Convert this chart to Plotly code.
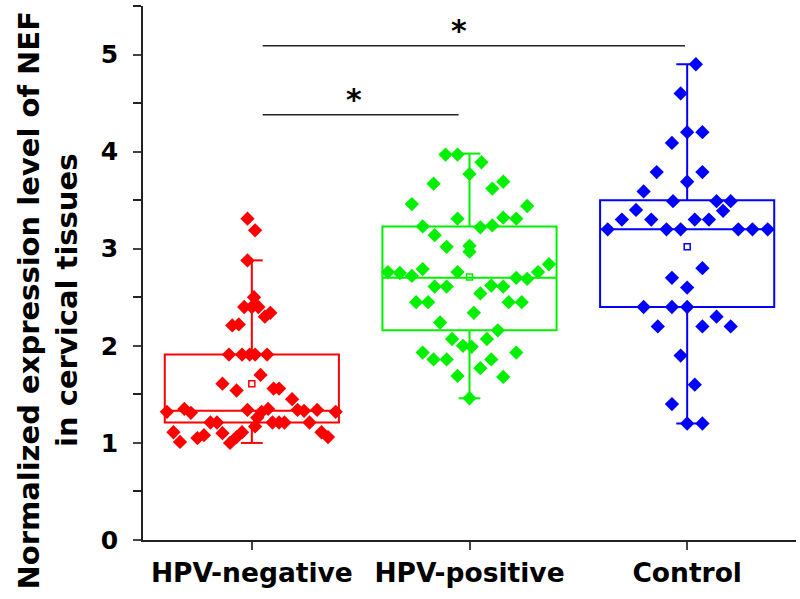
import plotly.graph_objects as go

# grupos e cores
grupos = ['HPV-negative', 'HPV-positive', 'Control']
cores = ['#ff0000', '#00f000', '#0000ff']

# estatisticas dos boxplots
q1 = [1.21, 2.16, 2.40]
mediana = [1.33, 2.70, 3.20]
q3 = [1.91, 3.23, 3.50]
whisker_inf = [1.00, 1.46, 1.20]
whisker_sup = [2.88, 3.98, 4.90]
media = [1.61, 2.71, 3.02]

# pontos individuais: valor e deslocamento horizontal (jitter)
neg_y = [3.31, 3.19, 2.88, 2.50, 2.40, 2.40, 2.40, 2.34, 2.30, 2.21, 2.22,
         1.91, 1.91, 1.91, 1.91, 1.91, 1.70, 1.61, 1.54, 1.56, 1.56, 1.45,
         1.32, 1.35, 1.31, 1.34, 1.32, 1.35, 1.34, 1.33, 1.34, 1.32,
         1.26, 1.21, 1.21, 1.21, 1.21, 1.21, 1.21, 1.17,
         1.11, 1.01, 1.05, 1.08, 1.10, 1.00, 1.06, 1.11, 1.11, 1.06]
neg_dx = [-0.02, 0.015, -0.02, 0.01, -0.035, 0.0, 0.03, 0.085, 0.06, -0.09, -0.06,
          -0.105, -0.045, -0.01, 0.015, 0.07, 0.04, -0.135, -0.07, 0.10, 0.125, 0.185,
          -0.39, -0.31, -0.28, -0.02, 0.045, 0.075, 0.21, 0.24, 0.30, 0.385,
          0.025, -0.19, -0.16, 0.095, 0.125, 0.15, 0.265, 0.015,
          -0.36, -0.33, -0.25, -0.22, -0.135, -0.10, -0.07, -0.045, 0.32, 0.35]

pos_y = [3.97, 3.97, 3.89, 3.77, 3.67, 3.62, 3.69, 3.46, 3.44, 3.31, 3.32, 3.31,
         3.23, 3.22, 3.24, 3.14, 3.02, 3.03, 2.97,
         2.76, 2.75, 2.72, 2.79, 2.76, 2.70, 2.69, 2.76, 2.84,
         2.61, 2.61, 2.54, 2.62, 2.61, 2.45, 2.45, 2.45, 2.45, 2.34, 2.24, 2.16,
         2.07, 2.07, 2.00, 1.99, 1.93, 1.86, 1.86, 1.93, 1.86, 1.77, 1.69, 1.68, 1.46]
pos_dx = [-0.11, -0.055, 0.055, 0.0, -0.165, 0.105, 0.155, -0.265, 0.265, -0.055, 0.155, 0.215,
          -0.215, 0.05, 0.105, -0.16, -0.105, 0.0, 0.0,
          -0.375, -0.32, -0.265, -0.215, -0.055, 0.215, 0.265, 0.315, 0.365,
          -0.16, -0.105, 0.05, 0.10, 0.155, -0.245, -0.19, 0.18, 0.24, 0.02, -0.135, 0.13,
          -0.08, 0.08, -0.03, 0.01, -0.215, -0.165, -0.105, 0.215, 0.10, 0.05, -0.055, 0.155, 0.0]

ctrl_y = [4.90, 4.60, 4.20, 4.20, 4.09, 3.79, 3.79, 3.69, 3.59, 3.49, 3.49, 3.49,
          3.40, 3.39, 3.30, 3.30, 3.30, 3.30, 3.20, 3.20, 3.20, 3.20, 3.20, 3.20,
          2.80, 2.70, 2.60, 2.40, 2.40, 2.40, 2.30, 2.20, 2.20, 2.20,
          1.90, 1.60, 1.40, 1.20, 1.20]
ctrl_dx = [0.04, -0.03, 0.0, 0.07, -0.07, -0.14, 0.07, 0.0, -0.2, -0.065, 0.135, 0.2,
           -0.235, 0.165, -0.3, -0.165, 0.035, 0.1, -0.365, -0.095, -0.03, 0.235, 0.3, 0.37,
           0.07, -0.07, 0.0, -0.2, -0.07, 0.0, 0.135, -0.135, 0.07, 0.2,
           -0.03, 0.035, -0.07, 0.0, 0.07]

pontos_y = [neg_y, pos_y, ctrl_y]
pontos_dx = [neg_dx, pos_dx, ctrl_dx]

fonte = 'DejaVu Sans'

fig = go.Figure()

for i, nome in enumerate(grupos):
    pos = i + 1
    cor = cores[i]
    # caixa com as estatisticas pre-calculadas
    fig.add_trace(go.Box(
        x=[pos], q1=[q1[i]], median=[mediana[i]], q3=[q3[i]],
        lowerfence=[whisker_inf[i]], upperfence=[whisker_sup[i]],
        width=0.8, boxpoints=False, whiskerwidth=0,
        fillcolor='rgba(0,0,0,0)', line=dict(color=cor, width=2),
        name=nome, showlegend=False, hoverinfo='skip'
    ))
    # tracinhos nas pontas dos whiskers
    for w in (whisker_inf[i], whisker_sup[i]):
        fig.add_trace(go.Scatter(
            x=[pos - 0.05, pos + 0.05], y=[w, w], mode='lines',
            line=dict(color=cor, width=2), showlegend=False, hoverinfo='skip'
        ))
    # pontos
    fig.add_trace(go.Scatter(
        x=[pos + d for d in pontos_dx[i]], y=pontos_y[i], mode='markers',
        marker=dict(symbol='diamond', size=11, color=cor, line=dict(width=0)),
        showlegend=False, name=nome
    ))
    # media
    fig.add_trace(go.Scatter(
        x=[pos], y=[media[i]], mode='markers',
        marker=dict(symbol='square-open', size=6, color=cor, line=dict(width=1.5)),
        showlegend=False, hoverinfo='skip'
    ))

# linhas de significancia
fig.add_shape(type='line', x0=1.05, x1=1.95, y0=4.38, y1=4.38,
              line=dict(color='#222222', width=1.5))
fig.add_shape(type='line', x0=1.05, x1=2.99, y0=5.09, y1=5.09,
              line=dict(color='#222222', width=1.5))
fig.add_annotation(x=1.47, y=4.34, text='<b>*</b>', showarrow=False,
                   yanchor='bottom', font=dict(size=30, color='black', family=fonte))
fig.add_annotation(x=1.95, y=5.05, text='<b>*</b>', showarrow=False,
                   yanchor='bottom', font=dict(size=30, color='black', family=fonte))

# titulo do eixo y como anotacao (centralizado na altura da figura)
fig.add_annotation(xref='paper', yref='paper', x=-0.145, y=0.449,
                   text='<b>Normalized expression level of NEF<br>in cervical tissues</b>',
                   textangle=-90, showarrow=False, xanchor='center', yanchor='middle',
                   font=dict(size=29, color='black', family=fonte))

fig.update_layout(
    width=800, height=599,
    margin=dict(l=143, r=4, t=6, b=59),
    plot_bgcolor='white', paper_bgcolor='white',
    font=dict(family=fonte, color='black'),
    xaxis=dict(
        range=[0.5, 3.5], tickvals=[1, 2, 3],
        ticktext=['<b>' + g + '</b>' for g in grupos],
        tickfont=dict(size=26.5), ticks='outside', ticklen=8, tickwidth=1.5,
        showline=True, linecolor='#222222', linewidth=1.5,
        showgrid=False, zeroline=False, automargin=False
    ),
    yaxis=dict(
        range=[0, 5.5], tickvals=[0, 1, 2, 3, 4, 5],
        ticktext=['<b>%d</b>' % v for v in [0, 1, 2, 3, 4, 5]],
        tickfont=dict(size=25), ticks='outside', ticklen=8, tickwidth=1.5,
        ticklabelstandoff=10,
        minor=dict(dtick=0.5, tick0=0, ticks='outside', ticklen=8, tickwidth=1.5, tickcolor='#222222'),
        showline=True, linecolor='#222222', linewidth=1.5,
        showgrid=False, zeroline=False, automargin=False
    )
)

# tira a margem padrao do body para a figura ficar no canto
fig.write_html('out.html', config={'displayModeBar': False},
               post_script="document.body.style.margin='0';")
